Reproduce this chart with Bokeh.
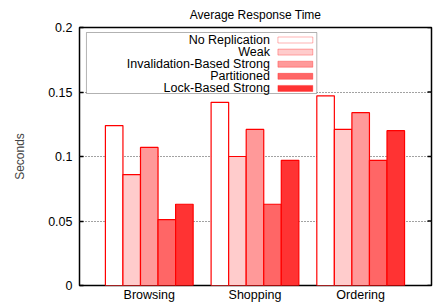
import math
from bokeh.plotting import figure
from bokeh.models import Range1d, FixedTicker, BoxAnnotation, Label, ColumnDataSource
from bokeh.transform import dodge
from bokeh.embed import file_html
from bokeh.resources import INLINE

categories = ["Browsing", "Shopping", "Ordering"]
series = ["No Replication", "Weak", "Invalidation-Based Strong", "Partitioned", "Lock-Based Strong"]
no_replication = [0.124, 0.142, 0.147]
weak = [0.086, 0.100, 0.121]
invalidation_strong = [0.107, 0.121, 0.134]
partitioned = [0.051, 0.063, 0.097]
lock_strong = [0.063, 0.097, 0.120]
y_ticks = [0, 0.05, 0.1, 0.15, 0.2]
y_tick_labels = ["0", "0.05", "0.1", "0.15", "0.2"]

values = [no_replication, weak, invalidation_strong, partitioned, lock_strong]
fills = ["#ffffff", "#ffcccc", "#ff9999", "#ff6666", "#ff3333"]

FONT = "Liberation Sans"
FS = "12.5px"

X_START, X_END = -0.66, 2.67
xs = list(range(len(categories)))
data = {"x": xs}
keys = []
for i, v in enumerate(values):
    k = "s%d" % i
    data[k] = v
    keys.append(k)
src = ColumnDataSource(data)

p = figure(width=441, height=307, output_backend="svg", toolbar_location=None,
           x_range=Range1d(X_START, X_END), y_range=Range1d(0, 0.2),
           min_border_left=79, min_border_right=10, min_border_top=27, min_border_bottom=22,
           title="Average Response Time")
p.title.align = "center"
p.title.text_font = FONT
p.title.text_font_size = "12px"
p.title.text_font_style = "normal"
p.title.text_color = "#000000"
p.title.standoff = 11
p.title.offset = 0

bw = 0.166
for i, k in enumerate(keys):
    p.vbar(x=dodge("x", (i - 2) * bw, range=p.x_range), top=k, width=bw, bottom=0,
           source=src, fill_color=fills[i], line_color="#ff0000", line_width=1.2)

p.outline_line_color = "#000000"
p.outline_line_width = 1.5
p.outline_line_alpha = 1
p.background_fill_color = "#ffffff"
p.border_fill_color = "#ffffff"

p.xgrid.visible = False
p.ygrid.ticker = FixedTicker(ticks=y_ticks)
p.ygrid.grid_line_color = "#444444"
p.ygrid.grid_line_dash = "1 2"
p.ygrid.grid_line_width = 1
p.ygrid.level = "underlay"

xa = p.xaxis[0]
xa.ticker = FixedTicker(ticks=xs)
xa.major_label_overrides = {i: c for i, c in enumerate(categories)}
xa.major_tick_in = 0
xa.major_tick_out = 0
xa.minor_tick_line_color = None
xa.axis_line_color = None
xa.major_label_standoff = 2
xa.major_label_text_font = FONT
xa.major_label_text_font_size = FS
xa.major_label_text_color = "#000000"

ya = p.yaxis[0]
ya.ticker = FixedTicker(ticks=y_ticks)
ya.major_label_overrides = {t: l for t, l in zip(y_ticks, y_tick_labels)}
ya.major_tick_in = 4
ya.major_tick_out = 0
ya.major_tick_line_width = 1.5
ya.minor_tick_line_color = None
ya.axis_line_color = None
ya.major_label_standoff = 7
ya.major_label_text_font = FONT
ya.major_label_text_font_size = FS
ya.major_label_text_color = "#000000"
ya.axis_label = "Seconds"
ya.axis_label_text_font = FONT
ya.axis_label_text_font_size = "12px"
ya.axis_label_text_font_style = "normal"
ya.axis_label_standoff = 18

# right-side inward tick marks
p.ray(x=[X_END] * len(y_ticks), y=y_ticks, length=4, length_units="screen",
      angle=math.pi, line_color="#000000", line_width=1.5)

# legend (gnuplot style: label right-aligned, swatch to the right)
x0, y0 = 149.0, 285.0  # pixel of Browsing center / y=0 in the picture
xpx, ypx = 106.0, 0.05 / 64.5
def dx(px): return (px - x0) / xpx
def dy(py): return (y0 - py) * ypx

p.add_layout(BoxAnnotation(left=dx(86), right=dx(317), top=dy(32), bottom=dy(93),
                           fill_color="#ffffff", fill_alpha=1, line_color="#000000",
                           line_width=1, level="annotation"))
for i, name in enumerate(series):
    cy = 39.5 + i * 12.1
    p.add_layout(BoxAnnotation(left=dx(278), right=dx(313), top=dy(cy - 3), bottom=dy(cy + 3),
                               fill_color=fills[i], fill_alpha=1, line_color="#ff0000",
                               line_width=1, level="annotation"))
    p.add_layout(Label(x=dx(270), y=dy(cy), text=name, text_align="right",
                       text_baseline="middle", text_font=FONT, text_font_size=FS,
                       text_color="#000000", level="annotation"))

open("out.html", "w").write(file_html(p, INLINE))
